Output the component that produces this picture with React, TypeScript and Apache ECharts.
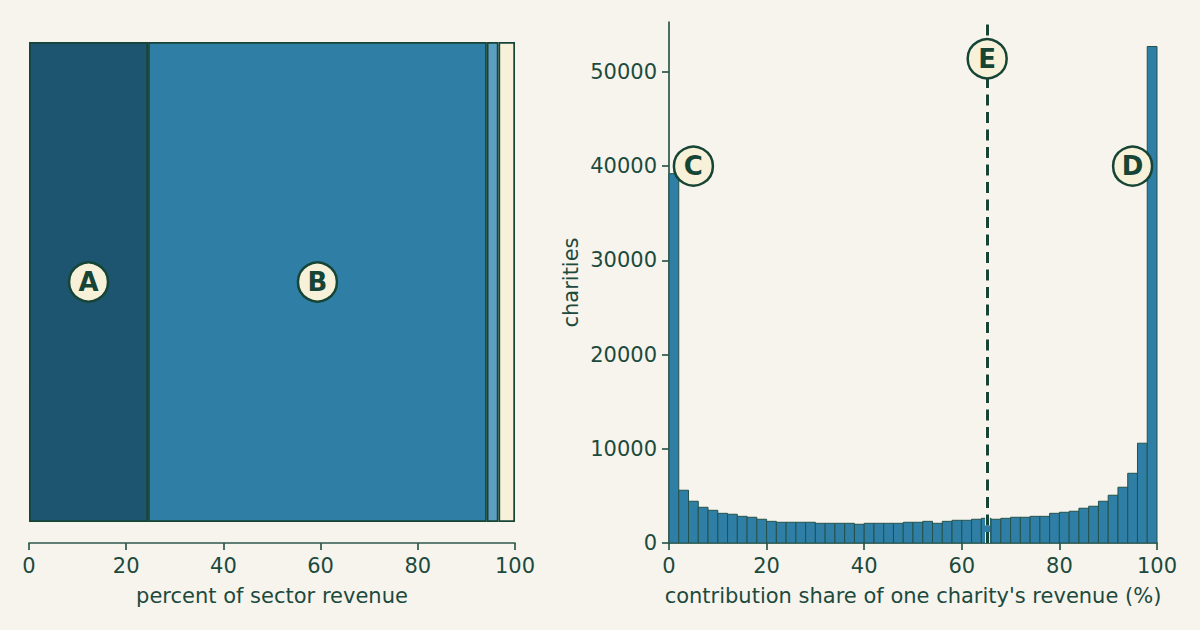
import React, { useEffect, useRef } from "react";
import * as echarts from "echarts";

// Left: share of sector revenue (percent), stacked segments
const segmentNames = ["A", "B", "C", "D"];
const segmentValues = [24.5, 69.7, 2.4, 3.4];
const segmentColors = ["#1d5570", "#2f7ea5", "#5b9fc1", "#f7f1da"];

// Right: histogram of contribution share (2% bins)
const binWidth = 2;
const binCounts = [
  39200, 5600, 4430, 3790, 3470, 3150, 3050, 2830, 2730, 2520,
  2300, 2200, 2200, 2200, 2200, 2090, 2090, 2090, 2090, 1990,
  2090, 2090, 2090, 2090, 2200, 2200, 2300, 2090, 2300, 2410,
  2410, 2520, 2620, 2520, 2620, 2730, 2730, 2830, 2830, 3150,
  3260, 3370, 3690, 3900, 4430, 5070, 5920, 7400, 10590, 52700,
];
const yTicks = [0, 10000, 20000, 30000, 40000, 50000];
const medianShare = 65.2;

// Annotation markers
const leftMarkers = [
  { name: "A", x: 12.25 },
  { name: "B", x: 59.35 },
];
const rightMarkers = [
  { name: "C", x: 5, y: 40000 },
  { name: "D", x: 95, y: 40000 },
  { name: "E", x: 65.2, y: 51400 },
];

const BG = "#f7f4ed";
const INK = "#164435";
const AXIS = "#2e574c";
const TEXT = "#1c4a3d";
const FONT = "DejaVu Sans";

export default function App() {
  const ref = useRef<HTMLDivElement>(null);
  useEffect(() => {
    document.body.style.margin = "0";
    const chart = echarts.init(ref.current!, null, { renderer: "svg" });
    const histData = binCounts.map((c, i) => [i * binWidth, (i + 1) * binWidth, c]);
    const markerLabel = {
      show: true,
      position: "inside",
      formatter: "{b}",
      fontFamily: FONT,
      fontWeight: "bold",
      fontSize: 26,
      color: INK,
    };
    const markerStyle = { color: "#f7f1da", borderColor: INK, borderWidth: 2.5, opacity: 1 };
    const axisCommon = {
      axisLine: { show: true, lineStyle: { color: AXIS, width: 1.7 } },
      axisTick: { show: true, length: 7, lineStyle: { color: AXIS, width: 1.7 } },
      axisLabel: { color: TEXT, fontFamily: FONT, fontSize: 21, margin: 12 },
      splitLine: { show: false },
      nameTextStyle: { color: TEXT, fontFamily: FONT, fontSize: 21 },
    };
    chart.setOption({
      animation: false,
      backgroundColor: BG,
      textStyle: { fontFamily: FONT },
      grid: [
        { left: 29, right: 1200 - 515, top: 42, bottom: 630 - 522, containLabel: false },
        { left: 669, right: 1200 - 1157, top: 22, bottom: 630 - 543, containLabel: false },
      ],
      xAxis: [
        {
          ...axisCommon,
          gridIndex: 0,
          type: "value",
          min: 0,
          max: 100,
          interval: 20,
          offset: 21,
          name: "percent of sector revenue",
          nameLocation: "middle",
          nameGap: 42,
        },
        {
          ...axisCommon,
          gridIndex: 1,
          type: "value",
          min: 0,
          max: 100,
          interval: 20,
          name: "contribution share of one charity's revenue (%)",
          nameLocation: "middle",
          nameGap: 42,
        },
      ],
      yAxis: [
        { gridIndex: 0, type: "category", data: ["sector"], show: false },
        {
          ...axisCommon,
          gridIndex: 1,
          type: "value",
          min: 0,
          max: 55300,
          axisTick: { ...axisCommon.axisTick, customValues: yTicks },
          axisLabel: {
            ...axisCommon.axisLabel,
            margin: 12,
            customValues: yTicks,
            formatter: (v: number) => String(v),
          },
          name: "charities",
          nameLocation: "middle",
          nameGap: 88,
        },
      ],
      series: [
        ...segmentNames.map((n, i) => ({
          type: "bar",
          name: n,
          xAxisIndex: 0,
          yAxisIndex: 0,
          stack: "total",
          barCategoryGap: "0%",
          data: [segmentValues[i]],
          itemStyle: { color: segmentColors[i], borderColor: INK, borderWidth: 1.7 },
          z: 2,
        })),
        {
          type: "scatter",
          xAxisIndex: 0,
          yAxisIndex: 0,
          symbol: "circle",
          symbolSize: 39,
          data: leftMarkers.map((m) => ({ name: m.name, value: [m.x, 0] })),
          itemStyle: markerStyle,
          label: markerLabel,
          z: 5,
        },
        {
          type: "custom",
          xAxisIndex: 1,
          yAxisIndex: 1,
          data: histData,
          encode: { x: [0, 1], y: 2 },
          renderItem: (params: any, api: any) => {
            const p0 = api.coord([api.value(0), 0]);
            const p1 = api.coord([api.value(1), api.value(2)]);
            return {
              type: "rect",
              shape: { x: p0[0], y: p1[1], width: p1[0] - p0[0], height: p0[1] - p1[1] },
              style: { fill: "#2f7ea5", stroke: "#24524a", lineWidth: 1 },
            };
          },
          z: 2,
        },
        {
          type: "scatter",
          xAxisIndex: 1,
          yAxisIndex: 1,
          data: [],
          markLine: {
            silent: true,
            symbol: "none",
            label: { show: false },
            lineStyle: { color: "rgba(255,255,255,0.85)", width: 5, type: [11, 6.5], cap: "butt" },
            data: [{ xAxis: medianShare }],
          },
          z: 3,
        },
        {
          type: "scatter",
          xAxisIndex: 1,
          yAxisIndex: 1,
          data: [],
          markLine: {
            silent: true,
            symbol: "none",
            label: { show: false },
            lineStyle: { color: INK, width: 3, type: [11, 6.5], cap: "butt" },
            data: [{ xAxis: medianShare }],
          },
          z: 4,
        },
        {
          type: "scatter",
          xAxisIndex: 1,
          yAxisIndex: 1,
          symbol: "circle",
          symbolSize: 39,
          data: rightMarkers.map((m) => ({ name: m.name, value: [m.x, m.y] })),
          itemStyle: markerStyle,
          label: markerLabel,
          z: 6,
        },
      ],
    });
    return () => chart.dispose();
  }, []);
  return (
    <div
      ref={ref}
      style={{ position: "absolute", left: 0, top: 0, width: 1200, height: 630 }}
    />
  );
}
